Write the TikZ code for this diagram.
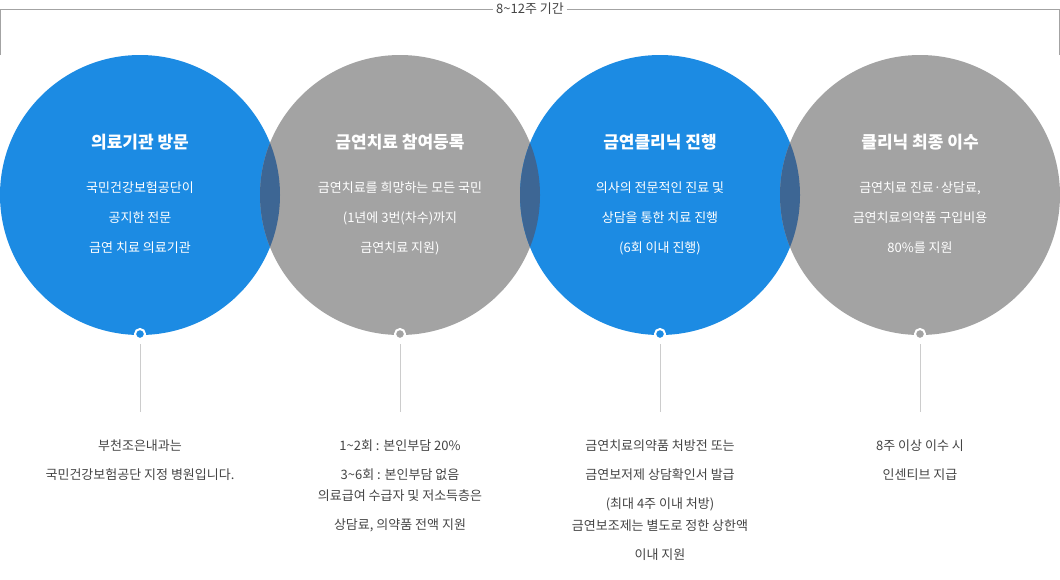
\documentclass[tikz,border=0pt]{standalone}
\usepackage{fontspec}
\setmainfont{Noto Sans CJK KR}
\usetikzlibrary{positioning}
\definecolor{stepBlue}{HTML}{1C8BE3}
\definecolor{stepGrey}{HTML}{A3A3A3}
\definecolor{stepMix}{HTML}{3D6694}
\definecolor{lineGrey}{HTML}{CCCCCC}
\definecolor{textGrey}{HTML}{444444}
\tikzset{
  title/.style={text=white, font=\fontsize{17}{20}\selectfont\bfseries},
  body/.style={text=white, font=\fontsize{13}{30}\selectfont, align=center},
  note/.style={text=textGrey, font=\fontsize{13}{29}\selectfont, align=center},
  marker/.style={circle, draw=white, line width=2pt, inner sep=0pt, minimum size=10pt},
}
\begin{document}
\begin{tikzpicture}[x=1pt,y=-1pt]
    \useasboundingbox (0,0) rectangle (1060,579);
    % period bracket
    \node[font=\fontsize{13}{15}\selectfont, text=textGrey] (period) at (530,9) {8\textasciitilde12주 기간};
    \coordinate (bracketL) at (0.5,55);
    \coordinate (bracketR) at (1059.5,55);
    \draw[stepGrey, line width=0.8pt] (bracketL) |- (period.west);
    \draw[stepGrey, line width=0.8pt] (bracketR) |- (period.east);

    % step circles
    \fill[stepBlue] (140,195) circle (140);
    \fill[stepGrey] (400,195) circle (140);
    \fill[stepBlue] (660,195) circle (140);
    \fill[stepGrey] (920,195) circle (140);
    % overlaps
    \foreach \a in {140,400,660} {
      \begin{scope}
        \clip (\a,195) circle (140);
        \fill[stepMix] (\a+260,195) circle (140);
      \end{scope}
    }

    % titles and texts
    \node[title] (visit) at (140,142) {의료기관 방문};
    \node[body] (visitText) at (140,218) {국민건강보험공단이\\공지한 전문\\금연 치료 의료기관};
    \node[title] (enrol) at (400,142) {금연치료 참여등록};
    \node[body] (enrolText) at (400,218) {금연치료를 희망하는 모든 국민\\(1년에 3번(차수)까지\\금연치료 지원)};
    \node[title] (clinic) at (660,142) {금연클리닉 진행};
    \node[body] (clinicText) at (660,218) {의사의 전문적인 진료 및\\상담을 통한 치료 진행\\(6회 이내 진행)};
    \node[title] (finish) at (920,142) {클리닉 최종 이수};
    \node[body] (finishText) at (920,218) {금연치료 진료·상담료,\\금연치료의약품 구입비용\\80\%를 지원};

    % markers and leader lines
    \node[marker, fill=stepBlue] (markA) at (140,334) {};
    \node[marker, fill=stepGrey] (markB) at (400,334) {};
    \node[marker, fill=stepBlue] (markC) at (660,334) {};
    \node[marker, fill=stepGrey] (markD) at (920,334) {};
    \foreach \m/\x in {markA/140,markB/400,markC/660,markD/920} {
      \coordinate (\m End) at (\x,412);
      \draw[lineGrey, line width=0.8pt] ([yshift=-4pt]\m.south) -- (\m End);
    }

    % notes
    \node[note] (noteA) at (140,460) {부천조은내과는\\국민건강보험공단 지정 병원입니다.};
    \node[note] (noteB) at (400,460) {1\textasciitilde2회 : 본인부담 20\%\\3\textasciitilde6회 : 본인부담 없음};
    \node[note, below=2pt of noteB] (noteB2) {의료급여 수급자 및 저소득층은\\상담료, 의약품 전액 지원};
    \node[note] (noteC) at (660,475) {금연치료의약품 처방전 또는\\금연보저제 상담확인서 발급\\(최대 4주 이내 처방)};
    \node[note, below=2pt of noteC] (noteC2) {금연보조제는 별도로 정한 상한액\\이내 지원};
    \node[note] (noteD) at (920,460) {8주 이상 이수 시\\인센티브 지급};
\end{tikzpicture}
\end{document}
